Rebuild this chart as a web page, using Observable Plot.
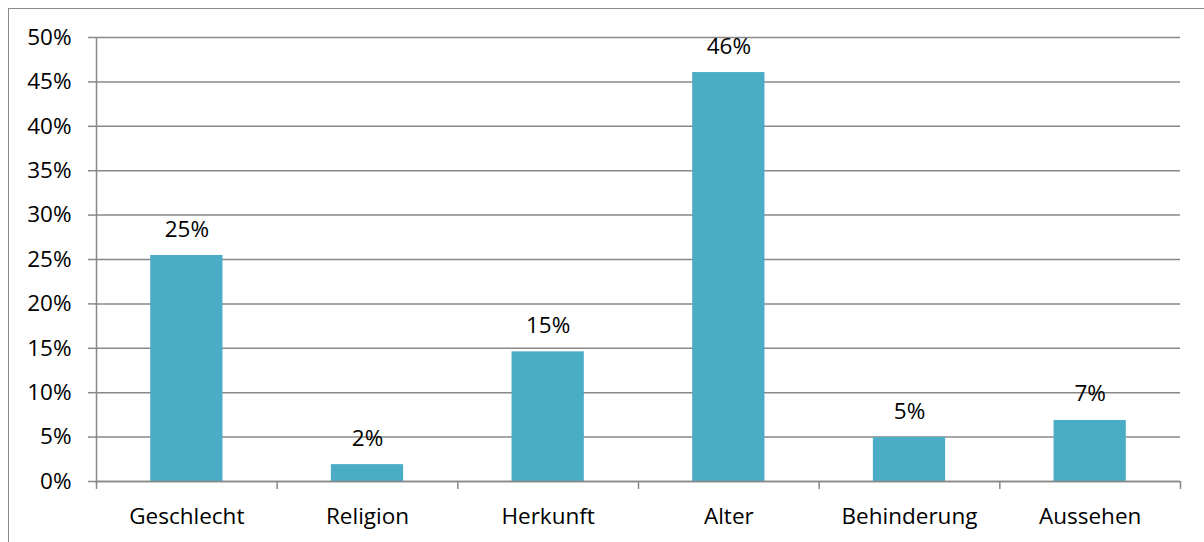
<!DOCTYPE html>
<html>
<head>
<meta charset="utf-8">
<script src="https://cdn.jsdelivr.net/npm/d3@7"></script>
<script src="https://cdn.jsdelivr.net/npm/@observablehq/plot@0.6"></script>
<style>
  html, body { margin: 0; padding: 0; background: #fff; overflow: hidden; }
  #chart { position: relative; width: 1204px; height: 542px; }
  #frame { position: absolute; left: 8px; top: 8px; width: 1220px; height: 560px; border: 1.5px solid #8a8a8a; box-sizing: border-box; pointer-events: none; }
</style>
</head>
<body>
<div id="chart"><div id="frame"></div></div>
<script>
const categories = ["Geschlecht", "Religion", "Herkunft", "Alter", "Behinderung", "Aussehen"];
const values = [0.2545, 0.019, 0.146, 0.4605, 0.0495, 0.0687];
const valueLabels = ["25%", "2%", "15%", "46%", "5%", "7%"];
const yTicks = [0, 0.05, 0.10, 0.15, 0.20, 0.25, 0.30, 0.35, 0.40, 0.45, 0.50];

const data = categories.map((c, i) => ({category: c, index: i, value: values[i], label: valueLabels[i]}));
const boundaries = d3.range(categories.length + 1);
const centers = categories.map((c, i) => i + 0.5);

const gridColor = "#888888";
const barColor = "#4BACC6";
const fs = 22.5;

const plot = Plot.plot({
  width: 1204,
  height: 542,
  marginLeft: 96,
  marginRight: 24,
  marginTop: 37,
  marginBottom: 61,
  style: {fontFamily: "'Open Sans', sans-serif", fontSize: fs + "px", color: "#000", background: "transparent", overflow: "visible"},
  x: {type: "linear", domain: [0, categories.length]},
  y: {domain: [0, 0.5]},
  marks: [
    Plot.gridY(yTicks, {stroke: gridColor, strokeOpacity: 1, strokeWidth: 1.5}),
    Plot.rectY(data, {x1: d => d.index + 0.3, x2: d => d.index + 0.7, y: "value", fill: barColor}),
    Plot.text(data, {x: d => d.index + 0.5, y: "value", text: "label", dy: -19, lineAnchor: "bottom", fill: "#000", fontSize: fs}),
    Plot.ruleY([0], {stroke: gridColor, strokeWidth: 1.5}),
    Plot.ruleX([0], {stroke: gridColor, strokeWidth: 1.5, insetBottom: -3}),
    Plot.axisY({ticks: yTicks, tickFormat: d3.format(".0%"), tickSize: 8, tickPadding: 17, stroke: gridColor, strokeWidth: 1.5, label: null, fontSize: fs}),
    Plot.axisX({ticks: boundaries, tickFormat: () => "", tickSize: 8, stroke: gridColor, strokeWidth: 1.5, label: null}),
    Plot.axisX({ticks: centers, tickFormat: (d) => categories[Math.round(d - 0.5)], tickSize: 0, tickPadding: 27, label: null, fontSize: fs})
  ]
});
document.getElementById("chart").prepend(plot);
</script>
</body>
</html>
